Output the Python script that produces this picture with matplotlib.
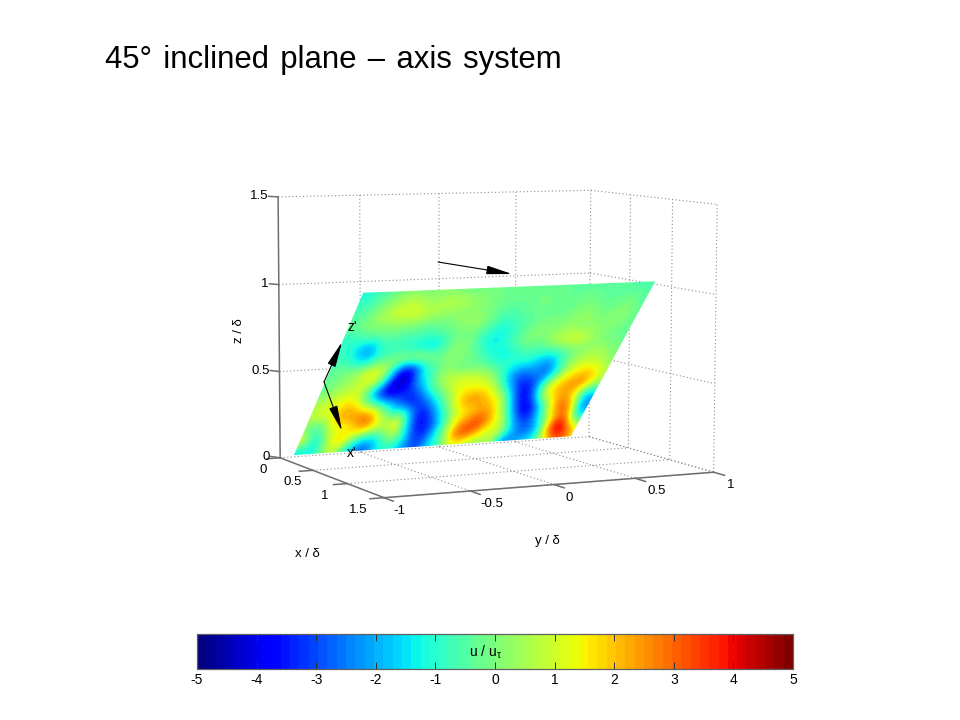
import matplotlib
matplotlib.use('Agg')
import matplotlib.pyplot as plt
import numpy as np
from matplotlib.cm import ScalarMappable
from matplotlib.colors import Normalize
from matplotlib.patches import Polygon
from matplotlib.transforms import Affine2D

plt.rcParams['font.family'] = ['Liberation Sans', 'DejaVu Sans']
plt.rcParams['axes.unicode_minus'] = False
plt.rcParams['mathtext.default'] = 'regular'

title = '45\u00b0 \u200ainclined \u200aplane \u200a\u2013 \u200aaxis \u200asystem'
x_ticks = [0, 0.5, 1, 1.5]
y_ticks = [-1, -0.5, 0, 0.5, 1]
z_ticks = [0, 0.5, 1, 1.5]
cbar_ticks = [-5, -4, -3, -2, -1, 0, 1, 2, 3, 4, 5]

# extent of the measurement plane, x = z on the 45 degree plane
plane_y = [-0.92, 0.87]
plane_x = [0.012, 1.04]

# u / u_tau on the plane, top row is the far edge, bottom row sits on z = 0
u_row00 = [-1.2, -.8, -.5, -.2, .1, .1, -.1, .2, .1, -.1, -.2, -.2, -.1, -.2, -.3, -.3, -.1, -.3, -.4, -.3, -.4, -.4, -.5, -.4, -.5, -.5, -.6, -.6]
u_row01 = [-.8, -.6, -.1, .3, .7, .9, .6, .3, .6, .8, .5, .3, .1, -.1, -.1, -.2, -.2, -.1, -.1, -.2, -.3, -.3, -.2, -.3, -.4, -.3, -.4, -.5]
u_row02 = [-.6, -.3, .3, .7, 1, 1.1, 1.1, .7, .5, .3, .3, .2, .1, -.2, -.4, -.5, -.4, -.2, -.1, -.3, -.4, -.1, .1, -.2, -.3, -.2, .1, -.4]
u_row03 = [-.3, -.1, .1, .1, .2, .1, .1, -.1, -.2, -.1, .1, .3, .4, .1, -.6, -.8, -.6, -.4, -.3, -.1, -.1, .1, .3, .3, -.1, .2, .3, -.3]
u_row04 = [-1, -.9, -.6, -.5, -.3, -.5, -.6, -.6, -.8, -.6, -.3, -.1, -.1, -.5, -1.1, -1.3, -.9, -.4, .1, .2, .1, .3, .2, .1, .2, .1, -.1, -.3]
u_row05 = [-.9, -1, -2, -2.4, -1, -.8, -1, -1.2, -1.6, -1.8, -.8, .1, .1, -.6, -1.3, -1.4, -.8, -.3, .1, -.2, .5, .9, 1.2, 1.2, .3, 0, -.2, -.3]
u_row06 = [-.7, -.7, -1.2, -1.8, -.9, -.4, .2, .3, .9, .3, -.1, .2, .1, .1, -.6, -1.2, -1.5, -1.1, -.7, -.7, -.9, -.6, -.3, -.1, .2, .5, .2, -.1]
u_row07 = [-.4, -.1, .1, .5, 1.2, 1.2, -.8, -3.5, -3.8, -1.3, -.6, .1, -.1, -.4, -.1, -.4, -.9, -1.1, -1.2, -1.2, -2, -2.5, -.8, .3, .8, .8, .5, .1]
u_row08 = [-.4, -.1, .2, .5, 1.2, 1, -1.5, -4.3, -4.5, -2, -.9, .4, 1, 1.1, 1, 1, .4, -1, -2.5, -3, -2.2, -2.8, -1.5, .8, 1.5, 2, 1.5, .5]
u_row09 = [-.1, .3, .8, 1, .8, -1.5, -3.5, -4.5, -3.5, -3.5, -2, -.6, .3, 1.2, 1.5, 1.3, 1.5, .5, -1.5, -3.5, -3.8, -1.5, 1, 2, 2.5, 2.8, 1.5, .3]
u_row10 = [.5, 1, 1.2, 1.8, 2, .5, -.5, -1.5, -2.5, -3.5, -3.8, -2.5, -1, .3, 2, 2.8, 2.5, 1.8, .8, -2, -4.3, -2.5, 1.2, 2, 2.5, .8, -2, -1.5]
u_row11 = [.5, 1, 1, 2.2, 2.5, 3, 3, 1, -.5, 0, -2.5, -4, -2.5, -.8, .8, 1.5, 2, 2.5, 1.5, -.5, -3.5, -4.5, -2, 1, 3.5, 2.5, -2.5, -2.5]
u_row12 = [.3, -1, -.5, 1.5, 1, 1.8, 2.8, 1.5, 1, 2, -1.5, -3.8, -3.5, -2, .5, 2, 3, 3.5, 2, 1, -1.8, -3.5, -2.5, 0, 2, 3.5, -1.5, -1]
u_row13 = [2.5, .5, -1.5, .5, 2.2, 1, -1, -1.5, -1, .5, -.5, -3, -3.5, -1.5, 0, 3, 3.5, 2.5, 1, 1.2, -.5, -2.5, -3, -1.5, 3.5, 5, 2.5, .5]
u_row14 = [-2.5, -1, -1.5, 0, 1, -.8, -2.5, -3, -1.5, -1, -1.5, -2.5, -3, -1.5, -.8, 1, 1, 0, .5, .5, -3, -2, -1.5, -1, 1, 3, 3, 1]

# box corners as they land on the page, used to fit the camera
cam_xyz = [(0, -1, 0), (0, -1, 1.5), (0, 0, 1.5), (0, 1, 1.5), (0, 1, 0),
           (1.5, 1, 1.5), (1.5, 1, 0), (1.5, -1, 0), (1.5, 0, 0)]
cam_px = [(279, 456), (278, 197), (439, 194), (591, 191), (590, 437),
          (717, 203), (713, 472), (386, 499), (553, 485)]


def fit_camera(xyz, px):
    rows = []
    rhs = []
    for (a, b, c), (p, q) in zip(xyz, px):
        rows.append([a, b, c, 1, 0, 0, 0, 0, -p*a, -p*b, -p*c])
        rows.append([0, 0, 0, 0, a, b, c, 1, -q*a, -q*b, -q*c])
        rhs += [p, q]
    sol = np.linalg.lstsq(np.array(rows, float), np.array(rhs, float), rcond=None)[0]
    return np.append(sol, 1).reshape(3, 4)


cam = fit_camera(cam_xyz, cam_px)


def proj(x, y, z):
    h = cam @ np.array([x, y, z, 1.0])
    return h[0] / h[2], h[1] / h[2]


def line3(ax, a, b, **kw):
    p, q = proj(*a), proj(*b)
    ax.plot([p[0], q[0]], [p[1], q[1]], **kw)


fig = plt.figure(figsize=(9.6, 7.2), dpi=100)
ax = fig.add_axes([0, 0, 1, 1])

grid = dict(color='#8c8c8c', lw=0.8, ls=(0, (1, 2.2)), zorder=1)
axis = dict(color='#6e6e6e', lw=1.1, zorder=3)

# grid on the two walls and the floor
for z in z_ticks:
    if z > 0:
        line3(ax, (0, -1, z), (0, 1, z), **grid)
    line3(ax, (0, 1, z), (1.5, 1, z), **grid)
line3(ax, (0, -1, 0), (0, 1, 0), **grid)
for y in y_ticks[1:]:
    line3(ax, (0, y, 0), (0, y, 1.5), **grid)
    line3(ax, (0, y, 0), (1.5, y, 0), **grid)
for x in x_ticks[1:]:
    line3(ax, (x, -1, 0), (x, 1, 0), **grid)
    line3(ax, (x, 1, 0), (x, 1, 1.5), **grid)

# axis lines and tick marks
line3(ax, (0, -1, 0), (0, -1, 1.5), **axis)
line3(ax, (0, -1, 0), (1.5, -1, 0), **axis)
line3(ax, (1.5, -1, 0), (1.5, 1, 0), **axis)
for z in z_ticks:
    line3(ax, (0, -1, z), (-0.07, -1.03, z), **axis)
for x in x_ticks:
    line3(ax, (x, -1, 0), (x, -1.08, 0), **axis)
for y in y_ticks:
    line3(ax, (1.5, y, 0), (1.62, y, 0), **axis)

# the plane
field = np.array([u_row00, u_row01, u_row02, u_row03, u_row04, u_row05, u_row06, u_row07,
                  u_row08, u_row09, u_row10, u_row11, u_row12, u_row13, u_row14], float)
cmap = plt.get_cmap('jet', 64)
norm = Normalize(-5, 5)
nrow, ncol = field.shape
corners_uv = np.array([[0, 0], [1, 0], [1, 1], [0, 1]], float)
corners_3d = [(plane_x[0], plane_y[0], plane_x[0]), (plane_x[0], plane_y[1], plane_x[0]),
              (plane_x[1], plane_y[1], plane_x[1]), (plane_x[1], plane_y[0], plane_x[1])]
corners_px = np.array([proj(*c) for c in corners_3d])
m = np.linalg.lstsq(np.c_[corners_uv, np.ones(4)], corners_px, rcond=None)[0].T
tr = Affine2D(np.vstack([m, [0, 0, 1]])) + ax.transData
du, dv = 0.5 / (ncol - 1), 0.5 / (nrow - 1)
im = ax.imshow(field, cmap=cmap, norm=norm, origin='upper', aspect='auto', interpolation='bicubic',
               extent=[-du, 1 + du, -dv, 1 + dv], transform=tr, zorder=2)
clip = Polygon(corners_px, closed=True, transform=ax.transData, fc='none', ec='none')
ax.add_patch(clip)
im.set_clip_path(clip)

ax.set_xlim(0, 960)
ax.set_ylim(720, 0)
ax.axis('off')

# arrows on the plane and the plane normal
head = dict(arrowstyle='-|>,head_length=1.3,head_width=0.22', color='black', lw=0.8,
            mutation_scale=12, shrinkA=0, shrinkB=0)
ax.annotate('', xy=(342, 342), xytext=(324, 382), arrowprops=head, zorder=5)
ax.annotate('', xy=(342, 431), xytext=(324, 382), arrowprops=head, zorder=5)
ax.annotate('', xy=(512, 274), xytext=(438, 262), arrowprops=head, zorder=5)
ax.text(352, 327, "z'", fontsize=10, ha='center', va='center', zorder=6)
ax.text(352, 453, "x'", fontsize=10, ha='center', va='center', zorder=6)

# tick labels
for z in z_ticks:
    p = proj(0, -1, z)
    ax.text(p[0] - 10, p[1] - 1, f'{z:g}', fontsize=9.5, ha='right', va='center')
for x in x_ticks:
    p = proj(x, -1, 0)
    ax.text(p[0] - 17 - 6 * x, p[1] + 12, f'{x:g}', fontsize=9.5, ha='center', va='center')
for y in y_ticks:
    p = proj(1.5, y, 0)
    ax.text(p[0] + 11 + 2 * y, p[1] + 13, f'{y:g}', fontsize=9.5, ha='left', va='center')

ax.text(307, 554, 'x / \u03b4', fontsize=9.5, ha='center', va='center')
ax.text(547, 541, 'y / \u03b4', fontsize=9.5, ha='center', va='center')
ax.text(239, 331, 'z / \u03b4', fontsize=9.5, ha='center', va='center', rotation=90)

ax.text(105, 68, title, fontsize=22.4, ha='left', va='baseline', color='black')

# colour bar
cax = fig.add_axes([197 / 960, 1 - 669 / 720, 596 / 960, 35 / 720])
cb = fig.colorbar(ScalarMappable(norm=norm, cmap=cmap), cax=cax, orientation='horizontal', ticks=cbar_ticks)
cb.ax.tick_params(axis='x', direction='in', top=True, bottom=True, length=5, width=0.7,
                  color='#303030', labelsize=10, pad=3)
cb.ax.set_xticklabels([str(t) for t in cbar_ticks])
cb.outline.set_edgecolor('#606060')
cb.outline.set_linewidth(0.9)
cax.text(0.484, 0.49, 'u / u$_{\\tau}$', transform=cax.transAxes, fontsize=10, ha='center', va='center')

fig.savefig('out.png', dpi=100)
